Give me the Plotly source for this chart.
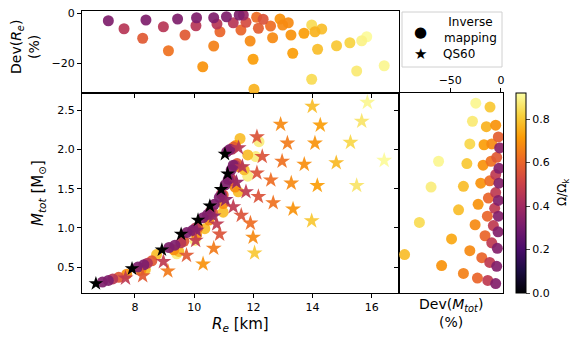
import plotly.graph_objects as go

W, H = 581, 346

# ---- main panel: inverse mapping (circles) ----
circ_R = [9.41, 10.03, 11.81, 12.08, 12.19,
          8.35, 8.73, 9.48, 10.36, 10.98, 11.49, 11.69, 11.81, 11.55,
          7.72, 8.20, 9.31, 10.08, 10.50, 10.98, 11.38, 11.51, 11.40,
          7.45, 8.57, 9.65, 10.12, 10.62, 10.98, 11.30, 11.45, 11.33,
          7.25, 8.42, 9.55, 10.05, 10.55, 10.92, 11.22, 11.38, 11.25,
          6.90, 7.10, 8.10, 8.30, 9.15, 9.35, 9.75, 9.95, 10.30, 10.45,
          10.68, 10.85, 11.05, 11.15, 11.25, 11.32, 11.10, 11.20]
circ_M = [0.67, 0.84, 1.66, 1.91, 2.10,
          0.47, 0.66, 0.70, 0.99, 1.20, 1.46, 1.74, 1.93, 2.14,
          0.41, 0.46, 0.72, 0.91, 1.10, 1.31, 1.52, 1.78, 2.05,
          0.37, 0.58, 0.83, 1.00, 1.20, 1.42, 1.60, 1.82, 2.03,
          0.35, 0.55, 0.81, 1.00, 1.21, 1.43, 1.64, 1.80, 2.00,
          0.31, 0.33, 0.50, 0.53, 0.75, 0.78, 0.94, 0.97, 1.13, 1.17,
          1.30, 1.39, 1.55, 1.62, 1.74, 1.80, 1.97, 2.00]
circ_W = [0.88] * 5 + [0.78] * 9 + [0.69] * 9 + [0.57] * 9 + [0.45] * 9 + [0.32] * 18

# ---- main panel: QS60 rotating models (stars) ----
star_R = [13.99, 15.85, 12.92, 14.26, 15.66, 12.12, 13.15, 14.08, 15.28, 16.42,
          11.50, 12.30, 12.97, 13.72, 14.80, 11.63, 12.12, 12.59, 13.28, 14.16,
          15.49, 11.43, 11.75, 12.17, 12.67, 13.34, 13.97, 11.06, 11.32, 11.59,
          11.90, 11.99, 12.04, 10.65, 10.76, 10.86, 10.66, 10.30, 10.08, 10.05,
          9.74, 9.11, 8.96, 8.26, 7.68]
star_M = [2.55, 2.60, 2.32, 2.31, 2.36, 2.16, 2.08, 2.08, 2.09, 1.86,
          2.02, 1.91, 1.85, 1.81, 1.83, 1.78, 1.70, 1.61, 1.57, 1.54,
          1.54, 1.58, 1.46, 1.40, 1.32, 1.24, 1.09, 1.36, 1.27, 1.16,
          1.06, 0.88, 0.68, 1.15, 1.05, 0.92, 0.74, 0.54, 0.97, 0.84,
          0.65, 0.45, 0.57, 0.39, 0.36]
star_W = [0.78, 0.90, 0.68, 0.72, 0.86, 0.55, 0.65, 0.70, 0.83, 0.91,
          0.45, 0.55, 0.63, 0.69, 0.77, 0.45, 0.55, 0.62, 0.68, 0.72,
          0.86, 0.38, 0.47, 0.55, 0.63, 0.70, 0.80, 0.35, 0.47, 0.55,
          0.62, 0.68, 0.80, 0.35, 0.47, 0.55, 0.65, 0.70, 0.35, 0.47,
          0.57, 0.65, 0.47, 0.57, 0.47]

# non-rotating QS60 sequence
nr_R = [6.68, 7.90, 8.91, 9.56, 10.13, 10.53, 10.91, 11.13, 11.04]
nr_M = [0.29, 0.48, 0.72, 0.92, 1.10, 1.28, 1.49, 1.69, 1.94]

# ---- top panel: deviation in R_e ----
top_R = [7.10, 7.63, 8.37, 8.26, 8.96, 9.13, 9.44, 9.69, 10.08, 10.06,
         10.29, 10.66, 10.77, 10.66, 10.87, 11.09, 11.32, 11.52, 11.66, 11.58,
         11.75, 11.89, 11.99, 12.02, 12.11, 12.17, 12.33, 12.58, 12.65, 12.90,
         12.99, 13.18, 13.27, 13.33, 13.71, 13.97, 14.08, 14.31, 14.17, 13.97,
         14.81, 15.26, 15.49, 15.66, 15.83, 16.42]
top_dev = [-3.1, -6.3, -2.8, -10.1, -5.5, -15.1, -2.4, -8.8, -1.9, -5.1,
           -21.5, -1.9, -4.4, -13.2, -7.5, -1.5, -3.9, -0.8, -0.8, -6.8,
           -3.7, -11.2, -18.5, -30.5, -1.7, -6.1, -2.5, -5.2, -9.9, -2.4,
           -4.8, -3.9, -8.8, -16.1, -8.1, -4.8, -7.5, -6.4, -14.5, -26.5,
           -13.1, -11.9, -23.2, -11.1, -9.5, -21.1]
top_W = [0.32, 0.45, 0.32, 0.57, 0.45, 0.63, 0.32, 0.57, 0.32, 0.45,
         0.70, 0.32, 0.45, 0.66, 0.60, 0.32, 0.45, 0.32, 0.38, 0.60,
         0.53, 0.68, 0.72, 0.76, 0.62, 0.58, 0.55, 0.62, 0.68, 0.70,
         0.68, 0.68, 0.70, 0.72, 0.72, 0.84, 0.76, 0.78, 0.78, 0.84,
         0.80, 0.82, 0.87, 0.89, 0.91, 0.90]

# ---- right panel: deviation in M_tot ----
rt_dev = [-24.8, -10.8, -28.1, -14.4, -5.2, -2.6, -30.7, -16.7, -9.1, -1.3,
          -61.5, -33.6, -17.6, -9.8, -4.2, -2.0, -5.2, -68.9, -37.0, -19.9,
          -11.1, -2.0, -5.2, -12.4, -22.5, -41.8, -2.6, -6.2, -2.6, -13.4,
          -25.5, -80.4, -7.5, -2.9, -15.7, -48.7, -9.1, -3.6, -30.7, -95.0,
          -18.9, -11.1, -4.2, -58.5, -37.0, -23.2, -13.0, -5.2]
rt_M = [2.59, 2.54, 2.36, 2.29, 2.31, 2.16, 2.07, 2.06, 2.07, 2.02,
        1.85, 1.82, 1.80, 1.85, 1.90, 1.76, 1.68, 1.52, 1.53, 1.57,
        1.60, 1.57, 1.45, 1.38, 1.30, 1.23, 1.35, 1.25, 1.15, 1.15,
        1.04, 1.07, 1.03, 0.95, 0.90, 0.86, 0.81, 0.74, 0.71, 0.66,
        0.62, 0.56, 0.51, 0.52, 0.42, 0.36, 0.33, 0.29]
rt_W = [0.90, 0.80, 0.87, 0.76, 0.70, 0.58, 0.83, 0.72, 0.68, 0.35,
        0.90, 0.80, 0.70, 0.63, 0.57, 0.33, 0.47, 0.88, 0.78, 0.70,
        0.62, 0.33, 0.47, 0.60, 0.70, 0.78, 0.33, 0.47, 0.33, 0.60,
        0.68, 0.84, 0.47, 0.33, 0.60, 0.74, 0.47, 0.33, 0.68, 0.78,
        0.60, 0.47, 0.33, 0.70, 0.66, 0.60, 0.47, 0.33]

CMAX = 0.92
FONT = "DejaVu Sans"


def sort_desc(*cols):
    # draw fast rotators first so slow ones end up on top
    rows = sorted(zip(*cols), key=lambda r: -r[-1])
    return [list(c) for c in zip(*rows)]


def mk(color, cbar=False):
    m = dict(color=color, colorscale="Inferno", cmin=0, cmax=CMAX, opacity=0.92,
             line=dict(width=0))
    if cbar:
        m["showscale"] = True
        m["colorbar"] = dict(x=516 / W, xanchor="left", y=1 - 293 / H, yanchor="bottom",
                             len=200, lenmode="pixels", thickness=10,
                             thicknessmode="pixels", outlinecolor="black", outlinewidth=1,
                             ticks="outside", ticklen=4, tickvals=[0, 0.2, 0.4, 0.6, 0.8],
                             tickformat=".1f", xpad=0, ypad=0,
                             tickfont=dict(family=FONT, size=11, color="black"))
    return m


tr, td, tw = sort_desc(top_R, top_dev, top_W)
rd, rm, rw = sort_desc(rt_dev, rt_M, rt_W)
cr, cm, cw = sort_desc(circ_R, circ_M, circ_W)

fig = go.Figure()

fig.add_trace(go.Scatter(x=cr, y=cm, mode="markers", showlegend=False,
                         marker=dict(size=11, symbol="circle", **mk(cw, cbar=True))))
fig.add_trace(go.Scatter(x=star_R, y=star_M, mode="markers", showlegend=False,
                         marker=dict(size=12, symbol="star", **mk(star_W))))
fig.add_trace(go.Scatter(x=nr_R, y=nr_M, mode="markers", showlegend=False,
                         marker=dict(size=11, symbol="star", color="black")))

fig.add_trace(go.Scatter(x=tr, y=td, mode="markers", showlegend=False, xaxis="x2", yaxis="y2",
                         marker=dict(size=11, symbol="circle", **mk(tw))))
fig.add_trace(go.Scatter(x=rd, y=rm, mode="markers", showlegend=False, xaxis="x3", yaxis="y3",
                         marker=dict(size=11, symbol="circle", **mk(rw))))

ax = dict(showline=True, linecolor="black", linewidth=1, mirror=True, ticks="outside",
          ticklen=4, tickcolor="black", showgrid=False, zeroline=False, automargin=False,
          tickfont=dict(family=FONT, size=11, color="black"))

x0, x1 = 82 / W, 399 / W
yb, ym, yt = 1 - 293 / H, 1 - 93 / H, 1 - 11 / H

fig.update_layout(
    template="none", showlegend=False,
    width=W, height=H, margin=dict(l=0, r=0, t=0, b=0, autoexpand=False),
    plot_bgcolor="white", paper_bgcolor="white",
    font=dict(family=FONT, color="black"),
    xaxis=dict(ax, domain=[x0, x1], range=[6.21, 16.92], tickvals=[8, 10, 12, 14, 16], anchor="y"),
    yaxis=dict(ax, domain=[yb, ym], range=[0.17, 2.72], tickvals=[0.5, 1.0, 1.5, 2.0, 2.5],
               tickformat=".1f", anchor="x"),
    xaxis2=dict(ax, domain=[x0, x1], range=[6.21, 16.92], tickvals=[8, 10, 12, 14, 16],
                showticklabels=False, anchor="y2", matches="x"),
    yaxis2=dict(ax, domain=[ym, yt], range=[-32, 0.8], tickvals=[-20, 0], anchor="x2"),
    xaxis3=dict(ax, domain=[x1, 503 / W], range=[-100.5, 2], tickvals=[-50, 0], side="top",
                anchor="y3"),
    yaxis3=dict(ax, domain=[yb, ym], range=[0.17, 2.72], tickvals=[0.5, 1.0, 1.5, 2.0, 2.5],
                showticklabels=False, anchor="x3"),
)

# legend box drawn by hand so it fits above the right panel's tick labels
fig.add_shape(type="rect", xref="paper", yref="paper", x0=402 / W, x1=502 / W,
              y0=1 - 67 / H, y1=1 - 12 / H, line=dict(color="#d0d0d0", width=1),
              fillcolor="white", layer="above")

ann = [
    dict(x=240, y=324, text="<i>R<sub>e</sub></i> [km]", size=15, angle=0),
    dict(x=38, y=193, text="<i>M<sub>tot</sub></i> [M<sub>⊙</sub>]", size=15, angle=-90),
    dict(x=25, y=47, text="Dev(<i>R<sub>e</sub></i>)<br>(%)", size=14, angle=-90),
    dict(x=451, y=313, text="Dev(<i>M<sub>tot</sub></i>)<br>(%)", size=14, angle=0),
    dict(x=563, y=193, text="Ω/Ω<sub>k</sub>", size=12, angle=-90),
    dict(x=420, y=32, text="●", size=15, angle=0),
    dict(x=420, y=54, text="★", size=15, angle=0),
    dict(x=470, y=30, text="Inverse<br>mapping", size=12, angle=0),
    dict(x=459, y=54, text="QS60", size=12, angle=0),
]
for a in ann:
    fig.add_annotation(x=a["x"] / W, y=1 - a["y"] / H, xref="paper", yref="paper",
                       text=a["text"], showarrow=False, textangle=a["angle"],
                       xanchor="center", yanchor="middle", align="center",
                       font=dict(family=FONT, size=a["size"], color="black"))

# the page's default body margin would push the 581x346 figure off by 8px
fig.write_html("out.html", config={"displayModeBar": False},
               post_script="document.body.style.margin='0';")
